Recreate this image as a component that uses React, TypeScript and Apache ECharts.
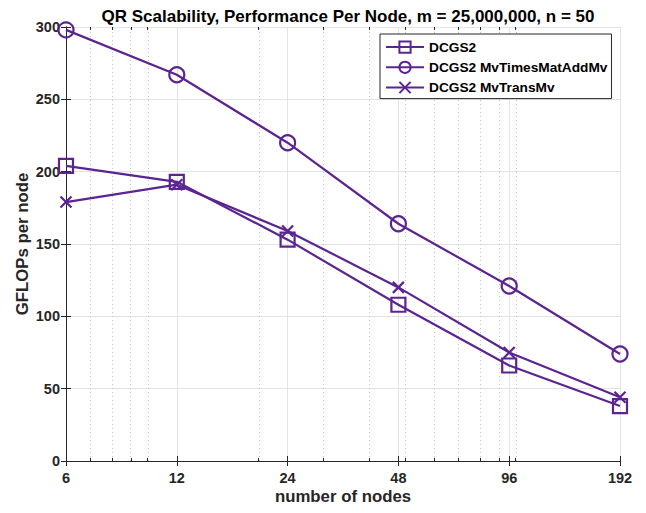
import React, { useEffect, useRef } from "react";
import * as echarts from "echarts";

const nodes = [6, 12, 24, 48, 96, 192];
const dcgs2 = [204, 193, 153, 108, 66, 38];
const mvTimes = [298, 267, 220, 164, 121, 74];
const mvTrans = [179, 191, 159, 120, 75, 44];
const minorNodes = [7, 8, 9, 10, 20, 30, 40, 50, 60, 70, 80, 90, 100];
const seriesNames = ["DCGS2", "DCGS2 MvTimesMatAddMv", "DCGS2 MvTransMv"];

const C = "#5b2491";
const FONT = "'Liberation Sans', Arial, sans-serif";
const BASE = nodes[0];
const tx = (n: number) => Math.log2(n / BASE);

export default function App() {
  const ref = useRef<HTMLDivElement>(null);
  useEffect(() => {
    if (!ref.current) return;
    const chart = echarts.init(ref.current, null, { renderer: "svg" });
    const mk = (vals: number[]) => nodes.map((n, i) => [tx(n), vals[i]]);
    const minorGrid = minorNodes.map((n) => ({ xAxis: tx(n) }));
    const minorTicks: any[] = [];
    minorNodes.forEach((n) => {
      minorTicks.push([{ coord: [tx(n), 0] }, { coord: [tx(n), 2.1] }]);
      minorTicks.push([{ coord: [tx(n), 300] }, { coord: [tx(n), 297.9] }]);
    });
    const itemStyle = { color: "none", borderColor: C, borderWidth: 2.2 };
    const lineStyle = { color: C, width: 2.2 };
    chart.setOption({
      animation: false,
      textStyle: { fontFamily: FONT },
      title: {
        text: "QR Scalability, Performance Per Node, m = 25,000,000, n = 50",
        left: 343,
        textAlign: "center",
        top: 3,
        textStyle: { fontFamily: FONT, fontWeight: "bold", fontSize: 17, color: "#000" },
      },
      legend: {
        left: 380,
        top: 34,
        orient: "vertical",
        backgroundColor: "#fff",
        borderColor: "#262626",
        borderWidth: 1,
        padding: [5, 4, 3, 5],
        itemGap: 4,
        itemWidth: 38,
        itemHeight: 14,
        data: seriesNames,
        textStyle: { fontFamily: FONT, fontWeight: "bold", fontSize: 13.7, color: "#000" },
      },
      grid: { left: 66, right: 26, top: 27, bottom: 52 },
      xAxis: [
        {
          type: "value",
          min: 0,
          max: 5,
          interval: 1,
          position: "bottom",
          name: "number of nodes",
          nameLocation: "middle",
          nameGap: 27,
          nameMoveOverlap: false,
          nameTextStyle: { fontFamily: FONT, fontWeight: "bold", fontSize: 16.8, color: "#262626" },
          axisLine: { lineStyle: { color: "#262626", width: 1 } },
          axisTick: { inside: true, length: 5, lineStyle: { color: "#262626" } },
          axisLabel: {
            margin: 9,
            fontFamily: FONT,
            fontWeight: "bold",
            fontSize: 14.5,
            color: "#262626",
            formatter: (v: number) => String(Math.round(BASE * Math.pow(2, v))),
          },
          splitLine: { show: true, lineStyle: { color: "#e3e3e3", width: 1 } },
        },
        {
          type: "value",
          min: 0,
          max: 5,
          interval: 1,
          position: "top",
          axisLine: { lineStyle: { color: "#262626", width: 1 } },
          axisTick: { inside: true, length: 5, lineStyle: { color: "#262626" } },
          axisLabel: { show: false },
          splitLine: { show: false },
        },
      ],
      yAxis: [
        {
          type: "value",
          min: 0,
          max: 300,
          interval: 50,
          position: "left",
          name: "GFLOPs per node",
          nameLocation: "middle",
          nameGap: 35,
          nameMoveOverlap: false,
          nameTextStyle: { fontFamily: FONT, fontWeight: "bold", fontSize: 16.8, color: "#262626" },
          axisLine: { show: true, lineStyle: { color: "#262626", width: 1 } },
          axisTick: { show: true, inside: true, length: 5, lineStyle: { color: "#262626" } },
          axisLabel: { margin: 6, fontFamily: FONT, fontWeight: "bold", fontSize: 14.5, color: "#262626" },
          splitLine: { show: true, lineStyle: { color: "#e3e3e3", width: 1 } },
        },
        {
          type: "value",
          min: 0,
          max: 300,
          interval: 50,
          position: "right",
          axisLine: { show: true, lineStyle: { color: "#262626", width: 1 } },
          axisTick: { show: true, inside: true, length: 5, lineStyle: { color: "#262626" } },
          axisLabel: { show: false },
          splitLine: { show: false },
        },
      ],
      series: [
        {
          name: seriesNames[0],
          type: "line",
          data: mk(dcgs2),
          symbol: "rect",
          symbolSize: 14,
          itemStyle,
          lineStyle,
          z: 5,
          markLine: {
            silent: true,
            symbol: "none",
            label: { show: false },
            lineStyle: { color: "#c4c4c4", type: [1, 3], width: 1 },
            data: minorGrid,
            z: 1,
          },
        },
        {
          name: seriesNames[1],
          type: "line",
          data: mk(mvTimes),
          symbol: "circle",
          symbolSize: 15,
          itemStyle,
          lineStyle,
          z: 5,
          markLine: {
            silent: true,
            symbol: "none",
            label: { show: false },
            lineStyle: { color: "#262626", type: "solid", width: 1 },
            data: minorTicks,
          },
        },
        {
          name: seriesNames[2],
          type: "line",
          data: mk(mvTrans),
          symbol: "path://M0,0L10,10M10,0L0,10",
          symbolSize: 11,
          itemStyle,
          lineStyle,
          z: 5,
        },
      ],
    });
    return () => chart.dispose();
  }, []);
  return (
    <div
      ref={ref}
      style={{ position: "fixed", left: 0, top: 0, width: 646, height: 513, background: "#fff" }}
    />
  );
}
